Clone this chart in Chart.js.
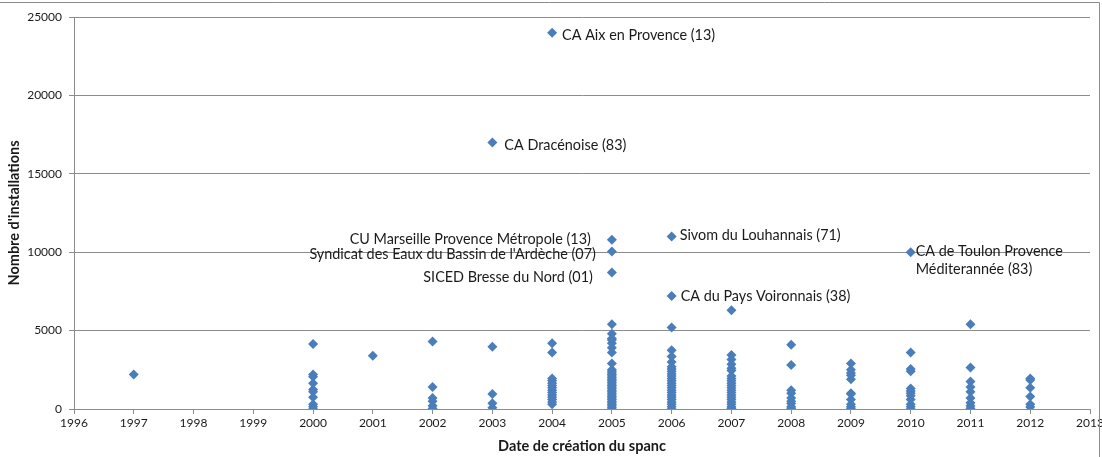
<!DOCTYPE html>
<html>
<head>
<meta charset="utf-8">
<script src="https://cdn.jsdelivr.net/npm/chart.js@4.4.1/dist/chart.umd.min.js"></script>
<style>
html,body{margin:0;padding:0;background:#fff;}
#wrap{position:relative;width:1102px;height:457px;}
</style>
</head>
<body>
<div id="wrap"><canvas id="c" width="1102" height="457"></canvas></div>
<script>
// Years (x) and installation counts (y) for each SPANC, grouped by year
const years = [1997, 2000, 2001, 2002, 2003, 2004, 2005, 2006, 2007, 2008, 2009, 2010, 2011, 2012];
const valuesByYear = [
  [2200],
  [4150, 2200, 2050, 1650, 1250, 1100, 750, 300, 150, 0],
  [3400],
  [4300, 1400, 700, 500, 200, 30],
  [3970, 950, 360, 80],
  [4200, 3600, 1950, 1800, 1650, 1500, 1350, 1200, 1050, 900, 750, 600, 450, 300],
  [5400, 4800, 4500, 4400, 4200, 3900, 3600, 2900, 2500, 2400, 2300, 2200, 2100, 2000, 1900, 1800, 1700, 1600, 1500, 1400, 1300, 1200, 1100, 1000, 900, 800, 700, 600, 500, 400, 300, 200, 100, 0],
  [5200, 3750, 3350, 3000, 2700, 2550, 2400, 2250, 2100, 1950, 1800, 1650, 1500, 1350, 1200, 1050, 900, 750, 600, 450, 300, 150, 0],
  [6300, 3450, 3150, 2850, 2600, 2450, 2100, 1950, 1800, 1650, 1500, 1350, 1200, 1050, 900, 750, 600, 450, 300, 150, 50, 0],
  [4100, 2800, 1200, 1000, 700, 500, 350, 150, 40],
  [2900, 2500, 2300, 2150, 1900, 1000, 950, 600, 300, 150, 50],
  [3600, 2550, 2400, 1300, 1150, 1000, 850, 600, 300, 150, 0],
  [5400, 2650, 1750, 1400, 1100, 700, 400, 200, 40],
  [1950, 1850, 1350, 800, 300, 120]
];
// Named (labelled) SPANCs
const namedYears  = [2004, 2003, 2005, 2005, 2005, 2006, 2006, 2010];
const namedValues = [24000, 17000, 10800, 10050, 8700, 11000, 7200, 10000];
const namedLabels = [
  ["CA Aix en Provence (13)"],
  ["CA Dracénoise (83)"],
  ["CU Marseille Provence Métropole (13)"],
  ["Syndicat des Eaux du Bassin de l'Ardèche (07)"],
  ["SICED Bresse du Nord (01)"],
  ["Sivom du Louhannais (71)"],
  ["CA du Pays Voironnais (38)"],
  ["CA de Toulon Provence", "Méditerannée (83)"]
];
const namedSide = ["right", "right", "left", "left", "left", "right", "right", "right"];
const xTicks = [1996,1997,1998,1999,2000,2001,2002,2003,2004,2005,2006,2007,2008,2009,2010,2011,2012,2013];
const yTicks = [0, 5000, 10000, 15000, 20000, 25000];

const points = [];
years.forEach((yr, i) => valuesByYear[i].forEach(v => points.push({x: yr, y: v})));
const named = namedYears.map((yr, i) => ({x: yr, y: namedValues[i]}));

const BLUE = '#4a7ebb';
const GRID = '#8c8c8c';
const FONT = 'Lato, "Open Sans", sans-serif';
// label offsets (pixels) relative to each named point
const LBL_DX = [10, 12, -21, -16, -19, 8, 9, 5];
const LBL_DY = [3, 3, 0, 3, 5, -1, 0, -1];

const labelPlugin = {
  id: 'namedLabels',
  afterDatasetsDraw(chart) {
    const ctx = chart.ctx;
    const meta = chart.getDatasetMeta(1);
    ctx.save();
    ctx.font = '14.4px ' + FONT;
    ctx.fillStyle = '#1a1a1a';
    ctx.textBaseline = 'middle';
    meta.data.forEach((el, i) => {
      const lines = namedLabels[i];
      ctx.textAlign = namedSide[i] === 'right' ? 'left' : 'right';
      lines.forEach((t, k) => ctx.fillText(t, el.x + LBL_DX[i], el.y + LBL_DY[i] + k * 18));
    });
    ctx.restore();
  }
};
const framePlugin = {
  id: 'frame',
  afterDraw(chart) {
    const ctx = chart.ctx;
    ctx.save();
    ctx.strokeStyle = '#8c8c8c';
    ctx.lineWidth = 1;
    ctx.beginPath();
    ctx.moveTo(0, 2.5); ctx.lineTo(1099.5, 2.5); ctx.lineTo(1099.5, 457);
    ctx.stroke();
    ctx.restore();
  }
};

new Chart(document.getElementById('c'), {
  type: 'scatter',
  data: {
    datasets: [
      { data: points, backgroundColor: BLUE, borderColor: BLUE, pointStyle: 'rectRot', pointRadius: 5, borderWidth: 0 },
      { data: named, backgroundColor: BLUE, borderColor: BLUE, pointStyle: 'rectRot', pointRadius: 5, borderWidth: 0 }
    ]
  },
  options: {
    responsive: false,
    animation: false,
    events: [],
    layout: { padding: { left: 0, right: 12, top: 17, bottom: 0 } },
    plugins: { legend: { display: false }, tooltip: { enabled: false } },
    scales: {
      x: {
        type: 'linear', min: 1996, max: 2013,
        afterBuildTicks: s => { s.ticks = xTicks.map(v => ({value: v})); },
        afterFit: s => { s.height = 48; s.paddingRight = 0; s.paddingLeft = 0; },
        grid: { drawOnChartArea: false, drawTicks: true, tickLength: 5, color: GRID },
        border: { color: GRID },
        ticks: { color: '#1a1a1a', font: { family: FONT, size: 12 }, padding: 2, maxRotation: 0, autoSkip: false, callback: v => String(v) },
        title: { display: true, text: 'Date de création du spanc', color: '#1a1a1a', font: { family: FONT, size: 14.5, weight: 'bold' }, padding: { top: 3, bottom: 2 } }
      },
      y: {
        min: 0, max: 25000,
        afterBuildTicks: s => { s.ticks = yTicks.map(v => ({value: v})); },
        afterFit: s => { s.width = 74; },
        grid: { drawTicks: true, tickLength: 5, color: GRID },
        border: { color: GRID },
        ticks: { color: '#1a1a1a', font: { family: FONT, size: 12 }, padding: 7, callback: v => String(v) },
        title: { display: true, text: "Nombre d'installations", color: '#1a1a1a', font: { family: FONT, size: 14.5, weight: 'bold' }, padding: { top: 6, bottom: 0 } }
      }
    }
  },
  plugins: [labelPlugin, framePlugin]
});
</script>
</body>
</html>
